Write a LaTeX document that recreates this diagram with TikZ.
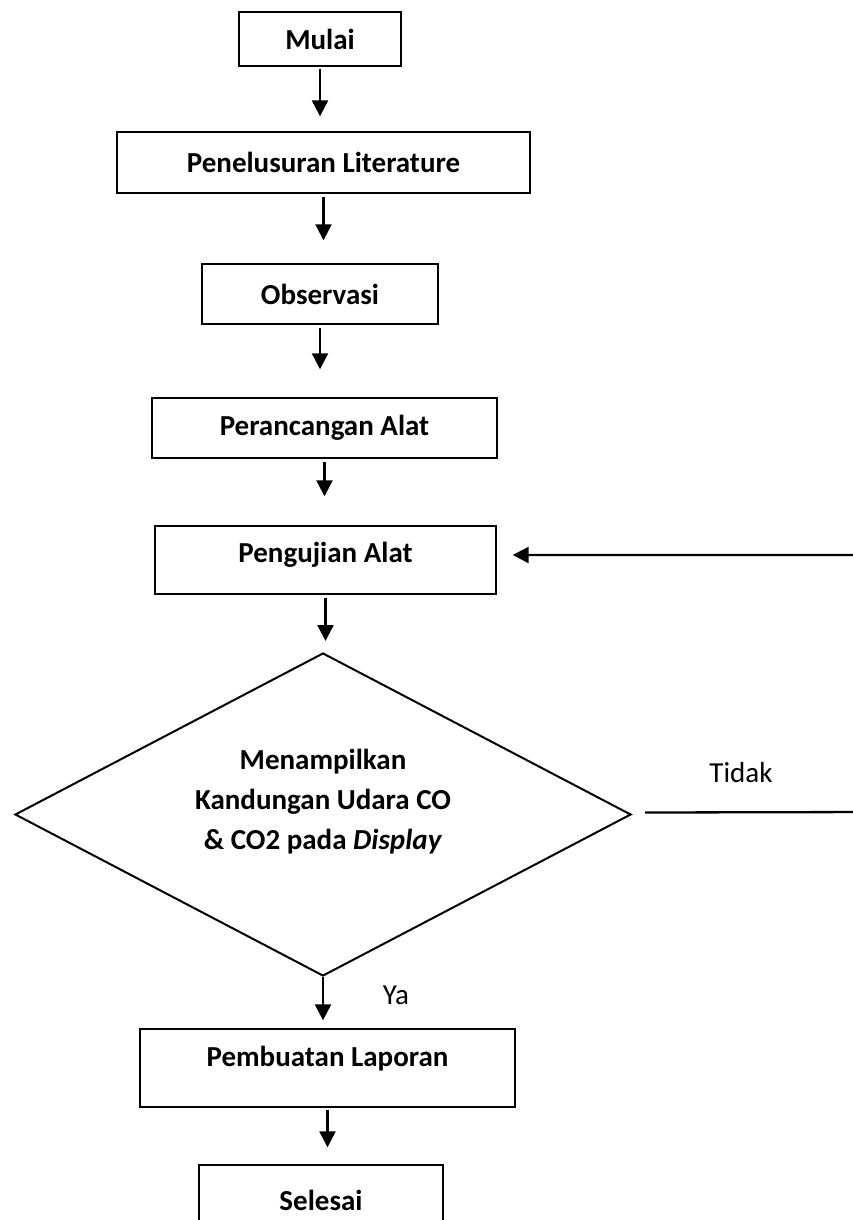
\documentclass[tikz,border=0pt]{standalone}
\usepackage{fontspec}
\setmainfont{Carlito}
\usetikzlibrary{shapes.geometric}
\usetikzlibrary{arrows.meta}

\begin{document}
\begin{tikzpicture}[x=1pt,y=-1pt,
    kotak/.style={draw, line width=1.4pt, inner sep=0pt, font=\fontsize{29}{40}\selectfont\bfseries},
    biasa/.style={inner sep=0pt, font=\fontsize{29}{40}\selectfont},
    panah/.style={-{Triangle[length=16pt,width=16pt]}, line width=2.3pt}]
    % ukuran gambar
    \useasboundingbox (0,0) rectangle (853,1220);
    \clip (0,0) rectangle (853,1220);
    % kotak alur
    \node[kotak, minimum width=162pt, minimum height=54pt] (mulai) at (320,39) {Mulai};
    \node[kotak, minimum width=413pt, minimum height=61pt] (literatur) at (323.5,162.5) {Penelusuran Literature};
    \node[kotak, minimum width=236pt, minimum height=60pt] (observasi) at (320,294) {Observasi};
    \node[kotak, minimum width=345pt, minimum height=60pt] (rancang) at (324.5,428) {Perancangan Alat};
    \node[kotak, minimum width=341pt, minimum height=68pt, text depth=15pt] (uji) at (325.5,560) {Pengujian Alat};
    \node[draw, diamond, line width=2pt, minimum width=616pt, minimum height=323pt, inner sep=0pt] (cek) at (323,814.5) {};
    \node[biasa, font=\fontsize{29}{40}\selectfont\bfseries, align=center] (isi) at (323,802)
        {Menampilkan\\Kandungan Udara CO\\\& CO2 pada \textit{Display}};
    \node[kotak, minimum width=375pt, minimum height=78pt, text depth=24pt] (laporan) at (327.5,1068) {Pembuatan Laporan};
    \node[kotak, minimum width=244pt, minimum height=70pt] (selesai) at (321,1200) {Selesai};
    % label cabang
    \node[biasa] (tidak) at (741,773) {Tidak};
    \node[biasa] (ya) at (396,995) {Ya};
    % panah turun
    \draw[panah, shorten <=2pt, shorten >=15pt] (mulai.south) -- (mulai.south |- literatur.north);
    \draw[panah, shorten <=3pt, shorten >=23pt] (literatur.south) -- (literatur.south |- observasi.north);
    \draw[panah, shorten <=3pt, shorten >=28pt] (observasi.south) -- (observasi.south |- rancang.north);
    \draw[panah, shorten <=3pt, shorten >=29pt] (rancang.south) -- (rancang.south |- uji.north);
    \draw[panah, shorten <=3pt, shorten >=11pt] (uji.south) -- (uji.south |- cek.north);
    \draw[panah, shorten >=8pt] (cek.south) -- (cek.south |- laporan.north);
    \draw[panah, shorten <=2pt, shorten >=17pt] (laporan.south) -- (laporan.south |- selesai.north);
    % jalur balik
    \coordinate (balik) at (875,812);
    \draw[panah, shorten >=16pt] ([xshift=13pt,yshift=2pt]cek.east) -- (balik) |- ([yshift=5pt]uji.east);
\end{tikzpicture}
\end{document}
